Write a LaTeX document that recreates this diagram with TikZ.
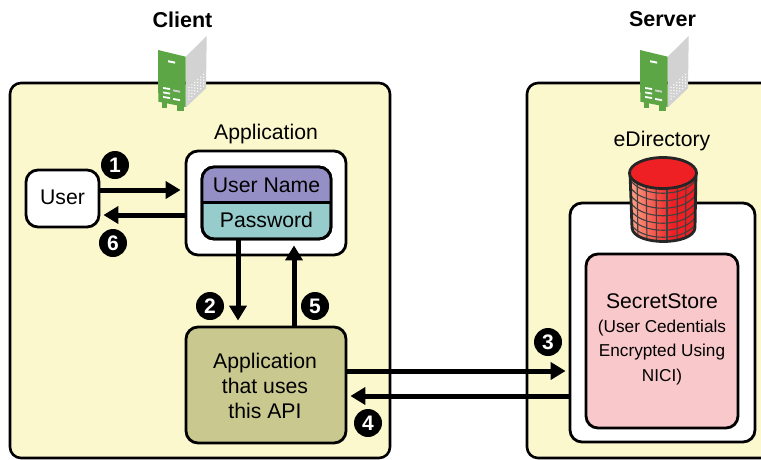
\documentclass[tikz,border=0pt]{standalone}
\usepackage{fontspec}
\setmainfont{Liberation Sans}
\usetikzlibrary{arrows.meta}
\definecolor{panelc}{HTML}{FCF8CE}
\definecolor{purplec}{HTML}{9490C6}
\definecolor{tealc}{HTML}{96CCCB}
\definecolor{olivec}{HTML}{C9C88F}
\definecolor{pinkc}{HTML}{F9C8CB}
\definecolor{greenc}{HTML}{5CA645}
\definecolor{greyc}{HTML}{D2D2D2}
\definecolor{redc}{HTML}{EE2024}
\definecolor{lightredc}{HTML}{FBA88A}
\tikzset{
  panel/.style={draw=black,line width=2.6pt,rounded corners=11pt,fill=panelc},
  box/.style={draw=black,line width=2.8pt,rounded corners=12pt,fill=white,inner sep=0pt},
  txt/.style={font=\fontsize{21.2}{25}\selectfont,align=center,inner sep=0pt},
  small/.style={font=\fontsize{17.2}{24.5}\selectfont,align=center,inner sep=0pt},
  ttl/.style={font=\fontsize{21.5}{25}\selectfont\bfseries,inner sep=0pt},
  flow/.style={line width=5pt,-{Triangle[length=15pt,width=17pt]}},
  badge/.style={circle,fill=black,text=white,minimum size=28pt,inner sep=0pt,font=\fontsize{21}{21}\selectfont\bfseries},
}
\newcommand{\srvicon}[1]{%
  \begin{scope}[shift={(#1,0)}]
    \fill[greenc] (162,100) rectangle (167,108);
    \fill[greenc] (177,104) rectangle (184,111);
    \fill[greyc] (185.7,56.7) -- (206.7,36) -- (206,88.3) -- (185.7,107.5) -- cycle;
    \fill[greenc] (158,50) -- (185.7,56.7) -- (185.7,107) -- (158.3,101.7) -- cycle;
    \fill[white] (168,60.2) -- (175,61.6) -- (175,63.6) -- (168,62.2) -- cycle;
    \foreach \yy in {87,91.5,96}{\fill[white] (163,\yy) -- (170,\yy+1.2) -- (170,\yy+3) -- (163,\yy+1.8) -- cycle;}
    \fill[greyc] (173,89.5) -- (180,90.8) -- (180,92.6) -- (173,91.3) -- cycle;
    \fill[white] (173,98) -- (180,99.3) -- (180,101.1) -- (173,99.8) -- cycle;
    \foreach \i in {0,...,5}{\foreach \j in {0,...,4}{
      \fill[white] (189+\i*2.9,99-\i*2.6-\j*2.9) circle (0.75);}}
  \end{scope}}
\begin{document}
\begin{tikzpicture}[x=1pt,y=-1pt]
\useasboundingbox (0,0) rectangle (761,459);
\fill[white] (0,0) rectangle (761,459);
% panels
\draw[panel] (10,83) rectangle (390,458);
\draw[panel] (527,83) rectangle (790,458);
% icons
\srvicon{0}
\srvicon{482}
\node[ttl] (client) at (182.5,19.5) {Client};
\node[ttl] (server) at (662.5,19.5) {Server};
% client
\node[box,minimum width=73pt,minimum height=57pt] (user) at (62.5,198.5) {};
\node[txt] (userl) at (62.5,197) {User};
\node[txt] (appl) at (266,134) {Application};
\node[box,minimum width=160pt,minimum height=104pt] (app) at (266,203) {};
\node[box,fill=tealc,minimum width=129pt,minimum height=72pt] (form) at (266.5,203) {};
\begin{scope}
  \clip (202,167) rectangle (331,202);
  \fill[purplec,rounded corners=12pt] (202,167) rectangle (331,230);
\end{scope}
\draw[line width=2.8pt,rounded corners=12pt] (202,167) rectangle (331,239);
\draw[line width=2.8pt] (202,202.5) -- (331,202.5);
\node[txt] (uname) at (266.5,185) {User Name};
\node[txt] (pwd) at (266.5,220) {Password};
\node[box,fill=olivec,minimum width=160pt,minimum height=116pt] (api) at (266,385) {};
\node[txt] (apil) at (265,386) {Application\\that uses\\ this API};
% server
\node[txt] (edir) at (662,141.5) {eDirectory};
\node[box,minimum width=185pt,minimum height=239pt] (ss) at (662.5,322.5) {};
\node[box,fill=pinkc,minimum width=152pt,minimum height=174pt] (sec) at (662,341) {};
\node[txt] (secl) at (662,301) {SecretStore};
\node[small] (secd) at (662,352.5) {(User Cedentials\\Encrypted Using\\NICI)};
% cylinder
\begin{scope}
  \path[clip] (630,173) -- (632,228) .. controls (634,246) and (693,246) .. (695,228) -- (696,173) -- cycle;
  \fill[redc] (628,160) rectangle (698,245);
  \shade[left color=lightredc,right color=redc] (628,160) rectangle (672,245);
  \foreach \yy in {192,199.5,207,214.5,222,229,236}{
    \draw[line width=1.1pt,black!75] (630,\yy-13) .. controls (640,\yy+6) and (686,\yy+6) .. (696,\yy-13);}
  \foreach \xa/\xb in {637/638,646/647,656/656.5,667/667,677.5/677,686/685.5}{
    \draw[line width=1.1pt,black!75] (\xa,170) -- (\xb,245);}
\end{scope}
\draw[line width=2.8pt,black!85] (630,173) -- (632,228) .. controls (634,246) and (693,246) .. (695,228) -- (696,173);
\draw[line width=2.8pt,black!85,fill=redc] (663,173) ellipse (33.5 and 15.5);
% arrows
\draw[flow] (user.east |- 0,190) -- ([xshift=-4pt]app.west |- 0,190);
\draw[flow] (app.west |- 0,215) -- ([xshift=3pt]user.east |- 0,215);
\draw[flow] (form.south -| 238,0) -- ([yshift=5pt]api.north -| 238,0);
\draw[flow] (api.north -| 294,0) -- ([yshift=-5pt]form.south -| 294,0);
\draw[flow] (api.east |- 0,371) -- ([xshift=-3pt]ss.west |- 0,371);
\draw[flow] (ss.west |- 0,396) -- ([xshift=3pt]api.east |- 0,396);
% badges
\node[badge] (b1) at (115,165) {1};
\node[badge] (b6) at (113,243) {6};
\node[badge] (b2) at (210,306) {2};
\node[badge] (b5) at (315,306) {5};
\node[badge] (b3) at (548,342) {3};
\node[badge] (b4) at (368,423) {4};
\end{tikzpicture}
\end{document}
